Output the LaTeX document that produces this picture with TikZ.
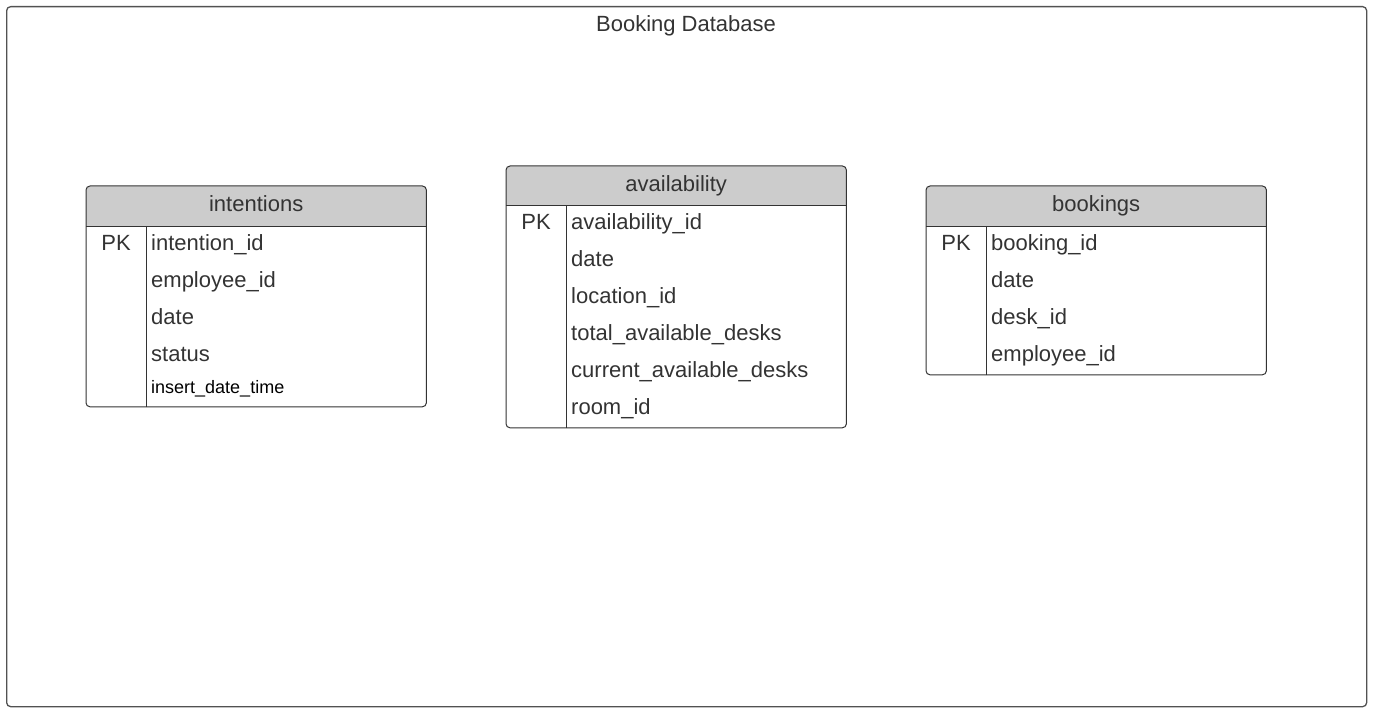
\documentclass[tikz,border=0pt]{standalone}
\usepackage{fontspec}
\setmainfont{Liberation Sans}
\usetikzlibrary{positioning}

\definecolor{inkgray}{HTML}{333333}
\definecolor{headgray}{HTML}{CCCCCC}

\begin{document}
\begin{tikzpicture}[
    x=1pt, y=-1pt, % one unit per pixel, y runs downward
    every node/.style={inner sep=0pt, text=inkgray},
    bigfont/.style={font=\fontsize{22}{26}\selectfont}, % Size of all table texts
    smallfont/.style={font=\fontsize{18}{22}\selectfont},
    dbframe/.style={draw=inkgray!85, line width=1.3pt, rounded corners=4pt}, % Outer container
    tablehead/.style={bigfont, fill=headgray, rounded corners=4pt, minimum width=340pt,
        minimum height=40pt, text height=16pt, text depth=5pt}, % Title row of a table
    tablebody/.style={minimum width=340pt, below=0pt of #1}, % Rows under the title
    outline/.style={draw=inkgray, line width=1pt, rounded corners=4pt},
    rule/.style={draw=inkgray, line width=1pt},
    field/.style={bigfont, anchor=base west},
    pktag/.style={bigfont, anchor=base}
]

    % Fix the page to the picture size
    \useasboundingbox (0,0) rectangle (1375,714);

    % Outer container and its title
    \node[dbframe, anchor=north west, minimum width=1360pt, minimum height=700pt] (db) at (6,6) {};
    \node[bigfont, anchor=base] (dbtitle) at (686,32) {Booking Database};

    % Table: intentions
    \node[tablehead, anchor=north west] (intentions) at (86,186) {intentions};
    \node[tablebody=intentions, minimum height=180pt] (intentions body) {};
    \fill[headgray] ([yshift=5pt]intentions.south west) rectangle (intentions.south east);
    \draw[outline] (intentions.north west) rectangle (intentions body.south east);
    \draw[rule] (intentions.south west) -- (intentions.south east);
    \draw[rule] ([xshift=60pt]intentions body.north west) -- ([xshift=60pt]intentions body.south west);
    \node[pktag] (intentions pk) at ([xshift=30pt, yshift=-24pt]intentions body.north west) {PK};
    \foreach \f [count=\i from 0] in {intention\_id, employee\_id, date, status} {
        \node[field] (intentions f\i) at ([xshift=65pt, yshift={-24pt-37pt*\i}]intentions body.north west) {\f};
    }
    \node[field, smallfont, text=black] (intentions f4) at ([xshift=65pt, yshift=-167pt]intentions body.north west) {insert\_date\_time};

    % Table: availability
    \node[tablehead, anchor=north west, minimum height=39pt] (availability) at (506,166) {availability};
    \node[tablebody=availability, minimum height=222pt] (availability body) {};
    \fill[headgray] ([yshift=5pt]availability.south west) rectangle (availability.south east);
    \draw[outline] (availability.north west) rectangle (availability body.south east);
    \draw[rule] (availability.south west) -- (availability.south east);
    \draw[rule] ([xshift=60pt]availability body.north west) -- ([xshift=60pt]availability body.south west);
    \node[pktag] (availability pk) at ([xshift=30pt, yshift=-24pt]availability body.north west) {PK};
    \foreach \f [count=\i from 0] in {availability\_id, date, location\_id, total\_available\_desks,
        current\_available\_desks, room\_id} {
        \node[field] (availability f\i) at ([xshift=65pt, yshift={-24pt-37pt*\i}]availability body.north west) {\f};
    }

    % Table: bookings
    \node[tablehead, anchor=north west] (bookings) at (926,186) {bookings};
    \node[tablebody=bookings, minimum height=148pt] (bookings body) {};
    \fill[headgray] ([yshift=5pt]bookings.south west) rectangle (bookings.south east);
    \draw[outline] (bookings.north west) rectangle (bookings body.south east);
    \draw[rule] (bookings.south west) -- (bookings.south east);
    \draw[rule] ([xshift=60pt]bookings body.north west) -- ([xshift=60pt]bookings body.south west);
    \node[pktag] (bookings pk) at ([xshift=30pt, yshift=-24pt]bookings body.north west) {PK};
    \foreach \f [count=\i from 0] in {booking\_id, date, desk\_id, employee\_id} {
        \node[field] (bookings f\i) at ([xshift=65pt, yshift={-24pt-37pt*\i}]bookings body.north west) {\f};
    }

\end{tikzpicture}
\end{document}
